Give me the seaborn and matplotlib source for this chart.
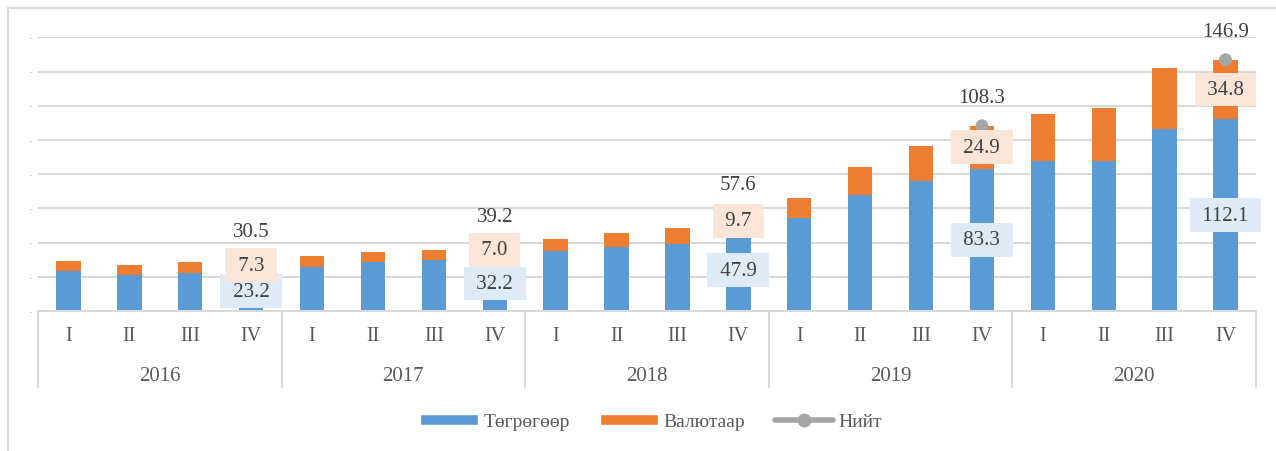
import numpy as np
import pandas as pd
import matplotlib.pyplot as plt
import seaborn as sns
from matplotlib.lines import Line2D
from matplotlib.patches import Patch
from matplotlib.transforms import blended_transform_factory

# Data
years = ['2016', '2017', '2018', '2019', '2020']
quarters = ['I', 'II', 'III', 'IV']
togrog = [23.6, 21.2, 22.4, 23.2, 25.6, 28.9, 29.7, 32.2, 35.3, 37.6,
          39.4, 47.9, 54.2, 68.1, 75.9, 83.3, 87.4, 87.4, 106.3, 112.1]
valyut = [5.8, 5.7, 6.1, 7.3, 6.8, 5.8, 6.0, 7.0, 6.8, 8.0,
          9.3, 9.7, 11.9, 16.2, 20.8, 24.9, 27.9, 31.2, 35.5, 34.8]
nan = np.nan
niit = [nan, nan, nan, 30.5, nan, nan, nan, 39.2, nan, nan,
        nan, 57.6, nan, nan, nan, 108.3, nan, nan, nan, 146.9]

blue = '#5B9BD5'
orange = '#ED7D31'
gray = '#A5A5A5'
grid_c = '#D9D9D9'
txt_c = '#404040'

sns.set_theme(style='white')
plt.rcParams['font.family'] = ['Liberation Serif', 'DejaVu Serif']

df = pd.DataFrame({
    'period': [f'{y} {q}' for y in years for q in quarters],
    'togrog': togrog,
    'valyut': valyut,
    'niit': niit,
})
df['stack'] = df['togrog'] + df['valyut']
pos = np.arange(len(df))

fig = plt.figure(figsize=(12.76, 4.52), dpi=100)
ax = fig.add_axes([38 / 1276, 1 - 312 / 452, (1256 - 38) / 1276, (312 - 38.3) / 452])

# stacked bars: total in orange, tugrug part over it in blue
sns.barplot(data=df, x='period', y='stack', color=orange, width=0.4,
            saturation=1, errorbar=None, ax=ax, zorder=2, linewidth=0)
sns.barplot(data=df, x='period', y='togrog', color=blue, width=0.4,
            saturation=1, errorbar=None, ax=ax, zorder=2, linewidth=0)
sns.scatterplot(x=pos, y=df['niit'], color=gray, s=85, edgecolor='none',
                zorder=3, ax=ax, legend=False)

ax.set_xlim(-0.5, len(df) - 0.5)
ax.set_ylim(0, 160)
ax.set_yticks(range(0, 161, 20))
ax.set_yticklabels(['-'] * 9, fontsize=5, color='#A0A0A0')
ax.tick_params(axis='y', length=0, pad=4)
ax.yaxis.grid(True, color=grid_c, lw=1.5)
ax.set_axisbelow(True)
ax.set_xticks([])
ax.set_xlabel('')
ax.set_ylabel('')
for s in ['left', 'top', 'right']:
    ax.spines[s].set_visible(False)
ax.spines['bottom'].set_color(grid_c)
ax.spines['bottom'].set_linewidth(1.5)

# value labels on the fourth quarters
for i in pos:
    n = df['niit'][i]
    if np.isnan(n):
        continue
    t = df['togrog'][i]
    v = df['valyut'][i]
    ax.text(i, t / 2, f' {t:.1f} ', ha='center', va='center', fontsize=15,
            color=txt_c, zorder=4,
            bbox=dict(boxstyle='square,pad=0.35', fc='#DEEBF7', ec='none'))
    ax.text(i, t + v / 2, f' {v:.1f} ', ha='center', va='center', fontsize=15,
            color=txt_c, zorder=5,
            bbox=dict(boxstyle='square,pad=0.35', fc='#FBE5D6', ec='none'))
    ax.annotate(f'{n:.1f}', (i, n), xytext=(0, 20), textcoords='offset points',
                ha='center', va='center', fontsize=15, color=txt_c, zorder=6)

# two-level category axis
trans = blended_transform_factory(ax.transData, ax.transAxes)
ax_h = 312 - 38.3
for i, p in enumerate(df['period']):
    ax.annotate(p.split()[1], (i, 0), xycoords=trans, xytext=(0, -25 * 0.72),
                textcoords='offset points', ha='center', va='center',
                fontsize=14.5, color='#595959')
for k, y in enumerate(years):
    ax.annotate(y, (4 * k + 1.5, 0), xycoords=trans, xytext=(0, -65 * 0.72),
                textcoords='offset points', ha='center', va='center',
                fontsize=15, color='#595959')
for k in range(len(years) + 1):
    x = 4 * k - 0.5
    ax.plot([x, x], [0, -76 / ax_h], transform=trans, clip_on=False,
            color=grid_c, lw=1.5)

handles = [Patch(fc=blue, label='Төгрөгөөр'),
           Patch(fc=orange, label='Валютаар'),
           Line2D([0], [0], color=gray, lw=4, marker='o', ms=9, label='Нийт')]
fig.legend(handles=handles, loc='center', bbox_to_anchor=(651 / 1276, 1 - 423 / 452),
           ncol=3, frameon=False, fontsize=14, handlelength=3.0, handleheight=0.55,
           handletextpad=0.3, columnspacing=1.5, labelcolor='#595959')

# chart border (only left and top visible in the reference)
fig.add_artist(Line2D([8 / 1276, 8 / 1276], [0, 1 - 9 / 452], color=grid_c, lw=1.5,
                      transform=fig.transFigure))
fig.add_artist(Line2D([8 / 1276, 1], [1 - 9 / 452, 1 - 9 / 452], color=grid_c, lw=1.5,
                      transform=fig.transFigure))

fig.savefig('out.png', dpi=100)
